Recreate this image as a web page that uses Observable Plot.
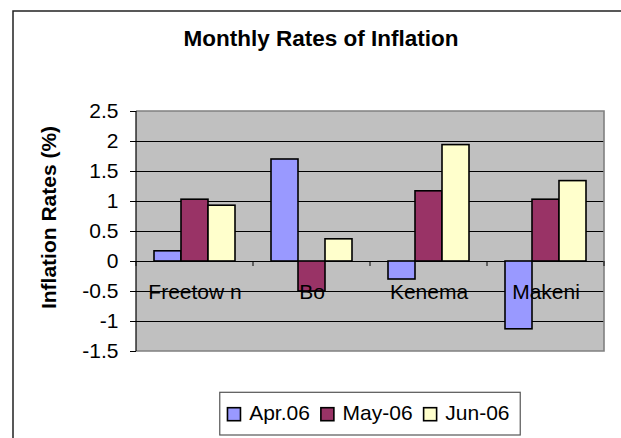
<!DOCTYPE html>
<html><head><meta charset="utf-8">
<script src="https://cdn.jsdelivr.net/npm/d3@7"></script>
<script src="https://cdn.jsdelivr.net/npm/@observablehq/plot@0.6"></script>
<style>
  html, body { margin: 0; padding: 0; background: #fff; }
  #chart svg { display: block; }
</style>
</head><body><div id="chart"></div>
<script>
const cities = ["Freetow n", "Bo", "Kenema", "Makeni"];
const seriesNames = ["Apr.06", "May-06", "Jun-06"];
const apr06 = [0.17, 1.70, -0.30, -1.13];
const may06 = [1.03, -0.50, 1.17, 1.03];
const jun06 = [0.93, 0.37, 1.94, 1.34];
const seriesColors = ["#9999FF", "#993366", "#FFFFCC"];
const yTicks = [-1.5, -1, -0.5, 0, 0.5, 1, 1.5, 2, 2.5];
const gridValues = [-1, -0.5, 0.5, 1, 1.5, 2];
const titleText = "Monthly Rates of Inflation";
const yLabelText = "Inflation Rates (%)";

const seriesValues = [apr06, may06, jun06];
const data = [];
cities.forEach((c, i) => seriesNames.forEach((s, j) => data.push({city: c, series: s, value: seriesValues[j][i]})));

const FONT = "'Liberation Sans', Arial, sans-serif";
const W = 621, H = 438;

const chart = Plot.plot({
  width: W, height: H,
  marginLeft: 136, marginRight: 17, marginTop: 111, marginBottom: 87,
  style: {fontFamily: FONT, fontSize: "21px", color: "black", background: "white", overflow: "visible"},
  fx: {domain: cities, padding: 0, axis: null},
  x: {domain: seriesNames, paddingInner: 0, paddingOuter: 0.62, axis: null},
  y: {domain: [-1.5, 2.5], ticks: yTicks, tickFormat: d => String(d), tickSize: 6, tickPadding: 12, label: null},
  color: {domain: seriesNames, range: seriesColors},
  marks: [
    Plot.ruleY(gridValues, {stroke: "black", strokeWidth: 1}),
    Plot.ruleY([0], {stroke: "black", strokeWidth: 1.2}),
    Plot.barY(data, {fx: "city", x: "series", y: "value", fill: "series", stroke: "black", strokeWidth: 1.6}),
    Plot.text(cities, {fx: d => d, text: d => d, y: () => 0, dy: 31, fontSize: 21, fill: "black", textAnchor: "middle", lineAnchor: "middle"})
  ]
});
document.getElementById("chart").appendChild(chart);

const svg = d3.select(chart);
const fx = chart.scale("fx");
const ys = chart.scale("y");
const yPos = v => ys.range[0] + (v - ys.domain[0]) / (ys.domain[1] - ys.domain[0]) * (ys.range[1] - ys.range[0]);
const left = Math.min(...fx.range), right = Math.max(...fx.range);
const step = (right - left) / cities.length;
const yTop = yPos(2.5), yBot = yPos(-1.5), y0 = yPos(0);

// plot area background, inserted beneath everything
const firstG = chart.querySelector("g");
const bg = document.createElementNS("http://www.w3.org/2000/svg", "rect");
bg.setAttribute("x", left); bg.setAttribute("y", yTop);
bg.setAttribute("width", right - left); bg.setAttribute("height", yBot - yTop);
bg.setAttribute("fill", "#C0C0C0");
chart.insertBefore(bg, firstG);

const deco = svg.append("g");
// plot area border (gray) top, right, bottom
deco.append("path").attr("d", `M${left},${yTop}H${right}V${yBot}H${left}`)
  .attr("fill", "none").attr("stroke", "#808080").attr("stroke-width", 1.6);
// left axis line
deco.append("line").attr("x1", left).attr("x2", left).attr("y1", yTop).attr("y2", yBot)
  .attr("stroke", "black").attr("stroke-width", 1.2);
// category boundary ticks on zero line
for (let i = 0; i <= cities.length; i++) {
  const x = left + i * step;
  deco.append("line").attr("x1", x).attr("x2", x).attr("y1", y0).attr("y2", y0 + 5)
    .attr("stroke", "black").attr("stroke-width", 1);
}
// outer chart border
deco.append("rect").attr("x", 13).attr("y", 11).attr("width", 700).attr("height", 500)
  .attr("fill", "none").attr("stroke", "#222").attr("stroke-width", 1.5);
// title
deco.append("text").attr("x", 321).attr("y", 46).attr("text-anchor", "middle")
  .attr("font-family", FONT).attr("font-size", 22.5).attr("font-weight", "bold").attr("fill", "black")
  .text(titleText);
// y label
deco.append("text").attr("transform", `translate(56,${(yTop + yBot) / 2 - 13.5}) rotate(-90)`)
  .attr("text-anchor", "middle")
  .attr("font-family", FONT).attr("font-size", 21).attr("font-weight", "bold").attr("fill", "black")
  .text(yLabelText);

// legend
const color = chart.scale("color");
const lg = svg.append("g").attr("text-anchor", "start");
const box = lg.append("rect");
let cx = 0;
color.domain.forEach((name, i) => {
  lg.append("rect").attr("x", cx).attr("y", 407.7).attr("width", 13).attr("height", 13)
    .attr("fill", color.range[i]).attr("stroke", "black").attr("stroke-width", 1.6);
  const t = lg.append("text").attr("x", cx + 21.7).attr("y", 419.5).attr("text-anchor", "start")
    .attr("font-family", FONT).attr("font-size", 21).attr("fill", "black").text(name);
  const w = t.node().getComputedTextLength();
  cx = cx + 21.7 + w + 11;
});
const innerW = cx - 11;
const boxW = innerW + 7.7 + 10.7;
const boxX = (left + right) / 2 - boxW / 2;
lg.attr("transform", `translate(${boxX + 7.7},0)`);
box.attr("x", -7.7).attr("y", 392.3).attr("width", boxW).attr("height", 42.7)
  .attr("fill", "white").attr("stroke", "#555").attr("stroke-width", 1.2);
</script>
</body></html>
